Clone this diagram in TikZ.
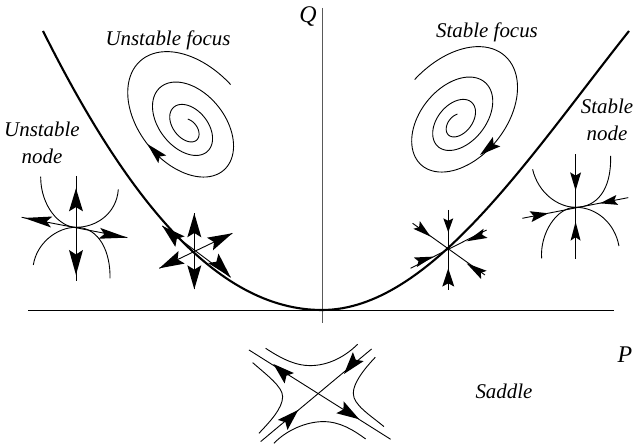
\documentclass[tikz,border=0pt]{standalone}
\usepackage{fontspec}
\setmainfont{Liberation Serif}
\usetikzlibrary{calc}
\newcommand\kite[3][7]{\fill (#2) -- ($(#3)!#1 bp!90:(#2)$) -- ($(#3)!0.18!(#2)$) -- ($(#3)!#1 bp!-90:(#2)$) -- cycle;}
\newcommand\spiralplot{\draw[thinline] plot[domain=235:1350,samples=270,variable=\t,smooth]
 ({562+(35+0.08*(\t-235)+0.0001*(\t-235)*(\t-235))*(cos(\t)*0.643-0.66*sin(\t)*0.766)},
  {385-0.02*(\t-235)+(35+0.08*(\t-235)+0.0001*(\t-235)*(\t-235))*(cos(\t)*0.766+0.66*sin(\t)*0.643)});}
\tikzset{
  thinline/.style={line width=0.9bp,black},
  lab/.style={inner sep=0pt,align=center,font=\fontsize{21}{26.5}\selectfont\itshape},
  biglab/.style={inner sep=0pt,font=\fontsize{24}{26}\selectfont\itshape},
  zoomL/.style={x=0.3333bp,y=-0.3333bp},
  zoomR/.style={x=0.3333bp,y=-0.3333bp,shift={(960,0)}},
  zoomS/.style={x=0.3333bp,y=-0.3333bp,shift={(660,900)}}
}
\begin{document}
\begin{tikzpicture}[x=1bp,y=-1bp]
\useasboundingbox (0,0) rectangle (635,447);
% axes
\draw[line width=1bp] (28,310) -- (614,310);
\draw[line width=1bp,black!65] (322,8) -- (322,323);
% parabola
\draw[line width=2.1bp] (43,31) .. controls (125,195) and (215,310) .. (322,310) .. controls (430,310) and (529,157) .. (629,31);
% labels
\node[biglab] (q) at (308,17) {Q};
\node[biglab] (p) at (625,355) {P};
\node[lab] (uf) at (168,40) {Unstable focus};
\node[lab] (sf) at (487,32) {Stable focus};
\node[lab] (un) at (42,143) {Unstable\\node};
\node[lab] (sn) at (607,120) {Stable\\node};
\node[lab] (sa) at (504,391) {Saddle};
% left part
\begin{scope}[zoomL]
 \spiralplot
 \kite[5.5]{442,432}{487,478}
 % unstable node
 \draw[thinline] (228,528) -- (228,843);
 \kite{228,565}{228,634}
 \kite{228,825}{228,750}
 \draw[thinline] (65,652) -- (382,713);
 \kite[5.5]{72,654}{155,666}
 \kite[5.5]{382,713}{298,700}
 \draw[thinline] (122,530) .. controls (122,620) and (180,682) .. (228,682) .. controls (290,682) and (350,640) .. (355,568);
 \draw[thinline] (100,795) .. controls (110,730) and (170,682) .. (228,682) .. controls (300,682) and (332,760) .. (330,835);
 % unstable star
 \draw[thinline] (583,640) -- (583,868);
 \kite{583,640}{583,712}
 \kite{583,868}{583,796}
 \draw[thinline] (697,700) -- (478,805);
 \kite{697,700}{630,732}
 \kite{478,805}{545,772}
 \draw[thinline] (487,678) -- (692,832);
 \kite{487,678}{540,725}
 \kite{692,832}{640,775}
\end{scope}
% right part
\begin{scope}[zoomR]
 \begin{scope}[xscale=-1,shift={(-976,-15)}]
  \spiralplot
 \end{scope}
 \kite[6]{480,465}{530,425}
 % stable star
 \draw[thinline] (385,630) -- (385,870);
 \kite[5]{385,697}{385,655}
 \kite[6]{385,805}{385,860}
 \draw[thinline] (278,670) -- (495,825);
 \kite[5]{332,710}{290,675}
 \kite[5]{440,790}{492,825}
 \draw[thinline] (272,805) -- (500,690);
 \kite[5]{340,770}{286,787}
 \kite[5]{440,724}{497,700}
 % stable node
 \draw[thinline] (767,463) -- (767,778);
 \kite[5.5]{767,572}{767,517}
 \kite[5]{767,665}{767,722}
 \draw[thinline] (607,655) -- (925,593);
 \kite[5.5]{685,640}{632,650}
 \kite[5]{840,610}{892,600}
 \draw[thinline] (638,508) .. controls (655,580) and (715,622) .. (767,622) .. controls (830,622) and (875,570) .. (872,468);
 \draw[thinline] (665,775) .. controls (660,700) and (710,622) .. (767,622) .. controls (830,622) and (885,670) .. (897,738);
\end{scope}
% saddle
\begin{scope}[zoomS]
 \draw[thinline] (87,150) -- (512,418);
 \kite{160,192}{208,235}
 \kite{418,358}{360,322}
 \draw[thinline] (122,425) -- (455,147);
 \kite{372,222}{415,170}
 \kite{235,330}{188,375}
 \draw[thinline] (137,145) .. controls (190,180) and (230,197) .. (270,197) .. controls (320,197) and (370,175) .. (413,133);
 \draw[thinline] (162,430) .. controls (200,390) and (260,365) .. (310,365) .. controls (360,365) and (400,390) .. (437,417);
 \draw[thinline] (98,188) .. controls (140,225) and (188,260) .. (188,290) .. controls (188,325) and (150,365) .. (117,400);
 \draw[thinline] (466,172) .. controls (430,210) and (400,250) .. (400,280) .. controls (400,315) and (450,345) .. (492,380);
\end{scope}
\end{tikzpicture}
\end{document}
